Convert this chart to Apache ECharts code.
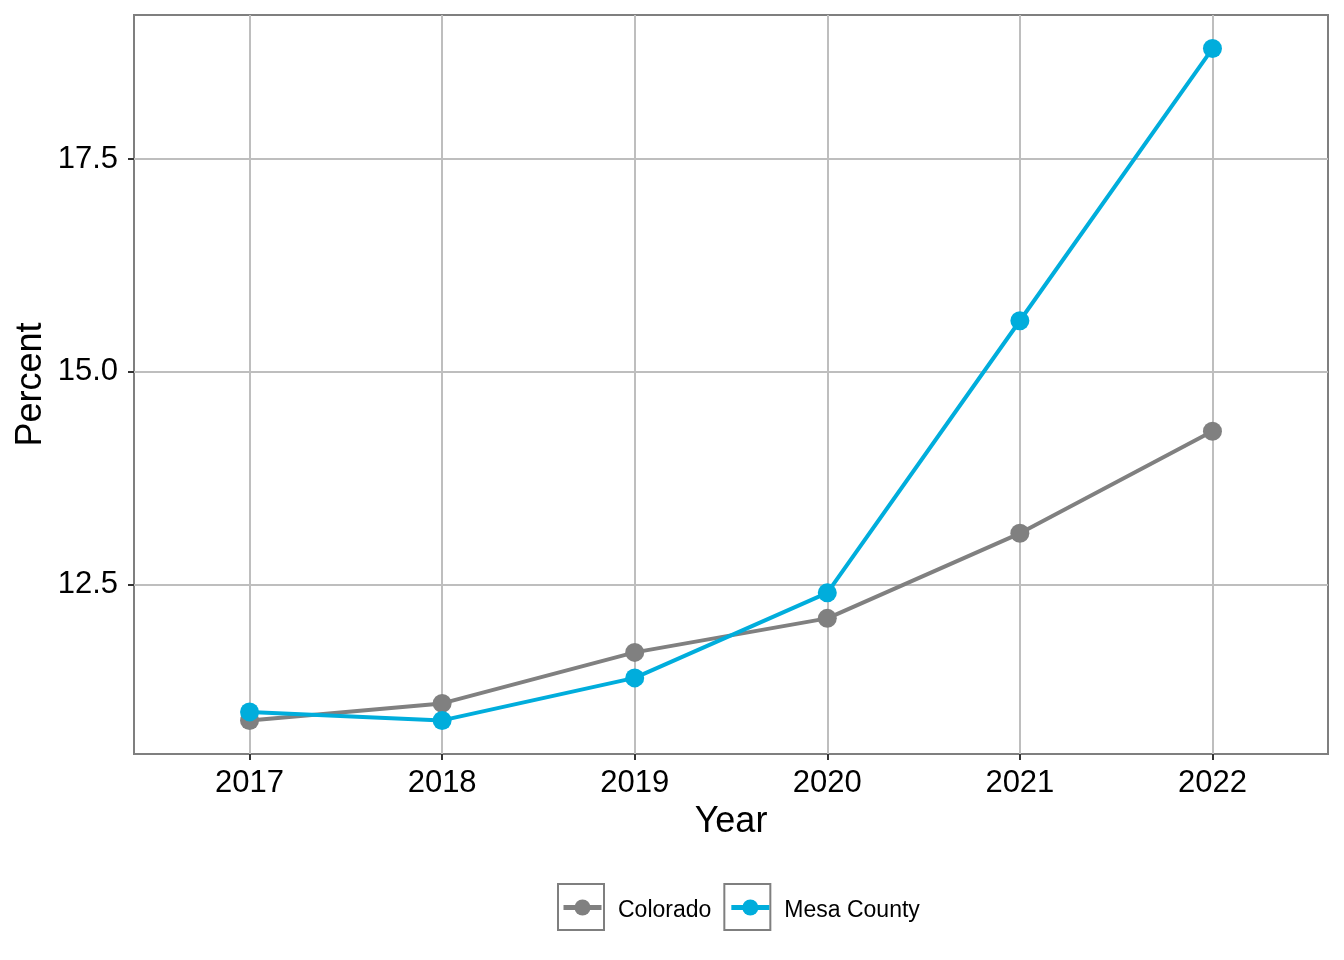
<!DOCTYPE html>
<html>
<head>
<meta charset="utf-8">
<script src="https://cdn.jsdelivr.net/npm/echarts@6/dist/echarts.min.js"></script>
<style>
html,body{margin:0;padding:0;background:#fff;}
#chart{width:1344px;height:960px;}
</style>
</head>
<body>
<div id="chart"></div>
<script>
const years = [2017, 2018, 2019, 2020, 2021, 2022];
const colorado = [10.9, 11.1, 11.7, 12.1, 13.1, 14.3];
const mesaCounty = [11.0, 10.9, 11.4, 12.4, 15.6, 18.8];
const yTicks = [12.5, 15.0, 17.5];
const seriesNames = ['Colorado', 'Mesa County'];
const colors = ['#808080', '#00ADDC'];

const FONT = '"Liberation Sans", Arial, sans-serif';
const chart = echarts.init(document.getElementById('chart'), null, {renderer: 'canvas'});

function pairs(vals) { return years.map((y, i) => [y, vals[i]]); }

const option = {
  backgroundColor: '#fff',
  animation: false,
  textStyle: {fontFamily: FONT},
  grid: {left: 134, right: 16, top: 15, bottom: 206, show: true, borderColor: '#7F7F7F', borderWidth: 2, backgroundColor: 'transparent'},
  xAxis: {
    type: 'value', min: 2016.4, max: 2022.6,
    name: 'Year', nameLocation: 'middle', nameGap: 50, nameMoveOverlap: false,
    nameTextStyle: {fontSize: 36, color: '#000', fontFamily: FONT},
    axisLine: {show: false},
    axisTick: {show: true, length: 6, lineStyle: {color: '#333', width: 2}, customValues: years},
    axisLabel: {fontSize: 31, color: '#000', margin: 14, fontFamily: FONT, customValues: years, formatter: v => String(v)},
    splitLine: {show: true, lineStyle: {color: '#BEBEBE', width: 2}}
  },
  yAxis: {
    type: 'value', min: 10.505, max: 19.195,
    name: 'Percent', nameLocation: 'middle', nameGap: 85, nameRotate: 90, nameMoveOverlap: false,
    nameTextStyle: {fontSize: 36, color: '#000', fontFamily: FONT},
    axisLine: {show: false},
    axisTick: {show: true, length: 6, lineStyle: {color: '#333', width: 2}, customValues: yTicks},
    axisLabel: {fontSize: 31, color: '#000', margin: 16, fontFamily: FONT, customValues: yTicks, formatter: v => v.toFixed(1)},
    splitLine: {show: true, lineStyle: {color: '#BEBEBE', width: 2}}
  },
  legend: [
    {
      left: 557, top: 883, padding: 0, orient: 'horizontal',
      itemWidth: 46, itemHeight: 46, itemGap: 12,
      icon: 'rect',
      itemStyle: {color: 'rgba(0,0,0,0)', borderColor: '#7F7F7F', borderWidth: 2},
      lineStyle: {width: 0, color: 'rgba(0,0,0,0)'},
      formatter: name => '{t|' + name + '}',
      textStyle: {fontSize: 23, color: '#000', fontFamily: FONT,
        rich: {t: {fontSize: 23, color: '#000', fontFamily: FONT, padding: [7, 0, 0, 9]}}},
      selectedMode: false,
      data: seriesNames
    },
    {
      left: 561, top: 896, padding: 0, orient: 'horizontal',
      itemWidth: 38, itemHeight: 20, itemGap: 20,
      lineStyle: {width: 5},
      formatter: name => '{t|' + name + '}',
      textStyle: {fontSize: 23, color: 'rgba(0,0,0,0)', fontFamily: FONT,
        rich: {t: {fontSize: 23, color: 'rgba(0,0,0,0)', fontFamily: FONT, padding: [0, 0, 0, 9]}}},
      selectedMode: false,
      data: seriesNames
    }
  ],
  series: [
    {
      name: seriesNames[0], type: 'line', data: pairs(colorado),
      color: colors[0], symbol: 'circle', symbolSize: 19,
      lineStyle: {width: 4, color: colors[0]}, itemStyle: {color: colors[0]}
    },
    {
      name: seriesNames[1], type: 'line', data: pairs(mesaCounty),
      color: colors[1], symbol: 'circle', symbolSize: 19,
      lineStyle: {width: 4, color: colors[1]}, itemStyle: {color: colors[1]}
    }
  ]
};
chart.setOption(option);
</script>
</body>
</html>
